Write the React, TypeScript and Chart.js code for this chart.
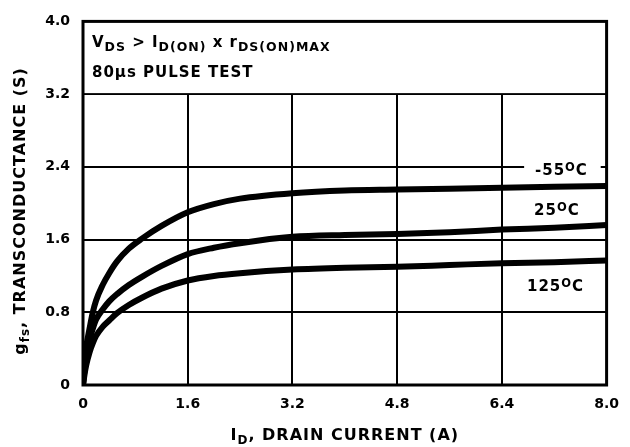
import React, { useEffect, useRef } from 'react';
import { Chart, registerables } from 'chart.js';

Chart.register(...registerables);

// Drain current I_D (A)
const drainCurrent = [0, 0.02, 0.05, 0.1, 0.15, 0.2, 0.3, 0.4, 0.52, 0.7, 0.9, 1.2, 1.6, 2.0, 2.4, 3.2, 4.0, 4.8, 5.6, 6.4, 7.2, 8.0];
// Transconductance gfs (S)
const gfsMinus55 = [0, 0.2, 0.42, 0.62, 0.8, 0.93, 1.1, 1.23, 1.36, 1.5, 1.61, 1.75, 1.9, 1.99, 2.05, 2.11, 2.14, 2.15, 2.16, 2.17, 2.18, 2.19];
const gfs25 = [0, 0.15, 0.33, 0.5, 0.62, 0.72, 0.83, 0.92, 1.0, 1.1, 1.19, 1.31, 1.44, 1.51, 1.56, 1.63, 1.65, 1.66, 1.68, 1.71, 1.73, 1.76];
const gfs125 = [0, 0.1, 0.22, 0.36, 0.46, 0.54, 0.64, 0.71, 0.79, 0.88, 0.96, 1.06, 1.15, 1.2, 1.23, 1.27, 1.29, 1.3, 1.32, 1.34, 1.35, 1.37];

const xTicks = [0, 1.6, 3.2, 4.8, 6.4, 8.0];
const yTicks = [0, 0.8, 1.6, 2.4, 3.2, 4.0];
const seriesNames = ['-55', '25', '125'];

const FONT = '"DejaVu Sans"';

type Run = { t: string; s: number; dy?: number };

function drawRuns(ctx: CanvasRenderingContext2D, runs: Run[], x: number, y: number, align: 'left' | 'center') {
  let w = 0;
  for (const r of runs) {
    ctx.font = `bold ${r.s}px ${FONT}`;
    w += ctx.measureText(r.t).width;
  }
  let cx = align === 'center' ? x - w / 2 : x;
  ctx.textAlign = 'left';
  ctx.textBaseline = 'alphabetic';
  for (const r of runs) {
    ctx.font = `bold ${r.s}px ${FONT}`;
    ctx.fillText(r.t, cx, y + (r.dy || 0));
    cx += ctx.measureText(r.t).width;
  }
}

const decoPlugin = {
  id: 'deco',
  beforeDatasetsDraw(chart: any) {
    const { ctx, chartArea: a, scales } = chart;
    const x = scales.x;
    const y = scales.y;
    ctx.save();
    ctx.fillStyle = '#ffffff';
    const y32 = y.getPixelForValue(3.2);
    ctx.fillRect(a.left, a.top - 2, a.right - a.left, y32 - 1 - (a.top - 2));
    // white box behind -55 label
    const y24 = y.getPixelForValue(2.4);
    const bx0 = x.getPixelForValue(6.74);
    const bx1 = x.getPixelForValue(7.91);
    ctx.fillRect(bx0, y24 - 8, bx1 - bx0, 16);
    ctx.restore();
  },
  afterDatasetsDraw(chart: any) {
    const { ctx, chartArea: a, scales } = chart;
    const x = scales.x;
    const y = scales.y;
    ctx.save();
    // frame
    ctx.strokeStyle = '#000';
    ctx.lineWidth = 3;
    ctx.strokeRect(a.left, a.top, a.right - a.left, a.bottom - a.top);

    ctx.fillStyle = '#000';
    (ctx as any).letterSpacing = '1px';

    // conditions text
    const tx = a.left + 9;
    drawRuns(ctx, [
      { t: 'V', s: 15 },
      { t: 'DS', s: 12.5, dy: 4 },
      { t: ' > I', s: 15 },
      { t: 'D(ON)', s: 12.5, dy: 4 },
      { t: ' x r', s: 15 },
      { t: 'DS(ON)MAX', s: 12.5, dy: 4 },
    ], tx, a.top + 25.5, 'left');
    drawRuns(ctx, [{ t: '80\u00b5s PULSE TEST', s: 15 }], tx, a.top + 55.5, 'left');

    // temperature labels
    const labelPos = [
      [7.31, 2.37],
      [7.24, 1.93],
      [7.22, 1.09],
    ];
    seriesNames.forEach((n, i) => {
      const px = x.getPixelForValue(labelPos[i][0]);
      const py = y.getPixelForValue(labelPos[i][1]) + 5.5;
      drawRuns(ctx, [
        { t: n, s: 15 },
        { t: 'O', s: 11.5, dy: -4 },
        { t: 'C', s: 15 },
      ], px, py, 'center');
    });

    // x title
    drawRuns(ctx, [
      { t: 'I', s: 16 },
      { t: 'D', s: 12, dy: 4 },
      { t: ', DRAIN CURRENT (A)', s: 16 },
    ], (a.left + a.right) / 2, 440, 'center');

    // y title
    ctx.translate(25, 211);
    ctx.rotate(-Math.PI / 2);
    drawRuns(ctx, [
      { t: 'g', s: 16 },
      { t: 'fs', s: 12, dy: 4 },
      { t: ', TRANSCONDUCTANCE (S)', s: 16 },
    ], 0, 0, 'center');
    ctx.restore();
  },
};

function fmt(v: number) {
  return v === 0 ? '0' : v.toFixed(1);
}

export default function App() {
  const ref = useRef<HTMLCanvasElement | null>(null);
  useEffect(() => {
    if (!ref.current) return;
    const mk = (ys: number[]) => drainCurrent.map((xv, i) => ({ x: xv, y: ys[i] }));
    const ds = (label: string, ys: number[]) => ({
      label,
      data: mk(ys),
      borderColor: '#000',
      backgroundColor: '#000',
      borderWidth: 6,
      pointRadius: 0,
      cubicInterpolationMode: 'monotone' as const,
      borderJoinStyle: 'round' as const,
      fill: false,
    });
    const chart = new Chart(ref.current, {
      type: 'line',
      data: {
        datasets: [ds(seriesNames[0], gfsMinus55), ds(seriesNames[1], gfs25), ds(seriesNames[2], gfs125)],
      },
      options: {
        animation: false,
        responsive: false,
        devicePixelRatio: 1,
        layout: { padding: { top: 14, right: 14, left: 0, bottom: 0 } },
        plugins: { legend: { display: false }, tooltip: { enabled: false }, title: { display: false } },
        scales: {
          x: {
            type: 'linear',
            min: 0,
            max: 8,
            afterBuildTicks: (s: any) => { s.ticks = xTicks.map((v) => ({ value: v })); },
            afterFit: (s: any) => { s.height = 62; },
            grid: { color: '#000', lineWidth: 2, drawTicks: false },
            border: { display: false },
            ticks: {
              padding: 11,
              color: '#000',
              font: { family: 'DejaVu Sans', weight: 'bold', size: 14 },
              callback: (v: any) => fmt(Number(v)),
              maxRotation: 0,
            },
          },
          y: {
            type: 'linear',
            min: 0,
            max: 4,
            afterBuildTicks: (s: any) => { s.ticks = yTicks.map((v) => ({ value: v })); },
            afterFit: (s: any) => { s.width = 83; },
            grid: { color: '#000', lineWidth: 2, drawTicks: false },
            border: { display: false },
            ticks: {
              padding: 13,
              color: '#000',
              font: { family: 'DejaVu Sans', weight: 'bold', size: 14 },
              callback: (v: any) => fmt(Number(v)),
            },
          },
        },
      },
      plugins: [decoPlugin],
    });
    return () => chart.destroy();
  }, []);
  return (
    <div style={{ position: 'absolute', left: 0, top: 0, width: 630, height: 447, background: '#fff' }}>
      <canvas ref={ref} width={630} height={447} style={{ display: 'block' }} />
    </div>
  );
}
